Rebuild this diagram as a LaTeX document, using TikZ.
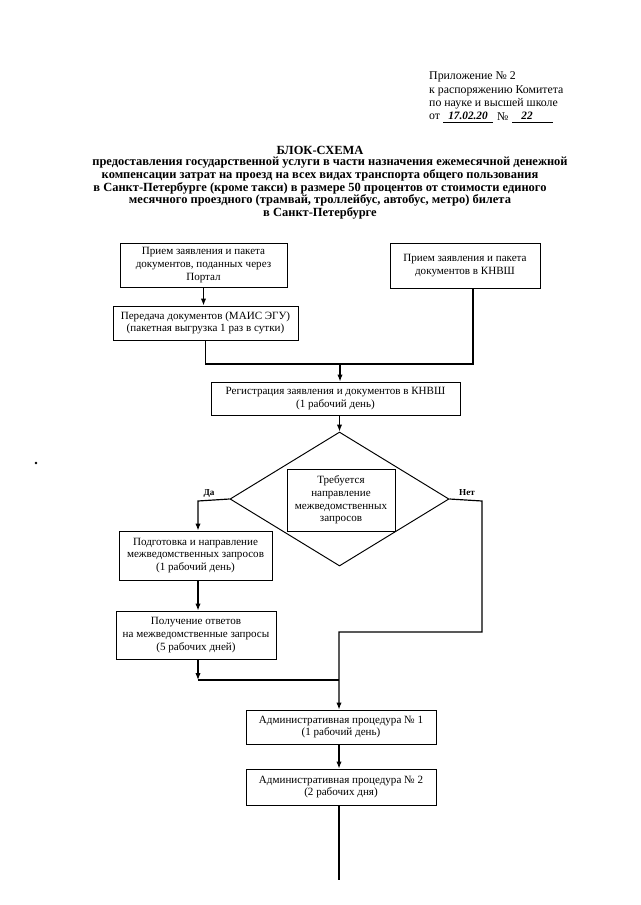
\documentclass[tikz,border=0pt]{standalone}
\usepackage{fontspec}
\setmainfont{Liberation Serif}
\usetikzlibrary{shapes.geometric,arrows.meta}
\begin{document}
\begin{tikzpicture}[x=0.9302pt,y=-0.9302pt,
  box/.style 2 args={draw,line width=0.9pt,inner sep=0pt,align=center,
    font=\fontsize{10.3}{11.8}\selectfont,
    minimum width=#1*0.9302pt,minimum height=#2*0.9302pt},
  arr/.style={line width=1.1pt,-{Latex[length=6.5pt,width=5pt]}},
  ln/.style={line width=1.1pt},
  ttl/.style={font=\bfseries\fontsize{11.6}{13}\selectfont,inner sep=0pt},
  hdr/.style={font=\fontsize{11}{12}\selectfont,inner sep=0pt,anchor=west},
  hand/.style={font=\itshape\bfseries\fontsize{10.5}{12}\selectfont,inner sep=0pt},
  lbl/.style={font=\bfseries\fontsize{8.5}{10}\selectfont,inner sep=0pt}]
\useasboundingbox[fill=white] (0,0) rectangle (640,905);

% header
\node[hdr] (h1) at (429,77) {Приложение № 2};
\node[hdr] (h2) at (429,91) {к распоряжению Комитета};
\node[hdr] (h3) at (429,104) {по науке и высшей школе};
\node[hdr] (h4) at (429,117) {от};
\coordinate (u1a) at (443,122); \coordinate (u1b) at (493,122);
\draw[line width=0.6pt] (u1a) -- (u1b);
\node[hand] (d1) at (468,116) {17.02.20};
\node[hdr] (h5) at (497,117) {№};
\coordinate (u2a) at (512,122); \coordinate (u2b) at (553,122);
\draw[line width=0.6pt] (u2a) -- (u2b);
\node[hand] (d2) at (527,116) {22};

% title
\node[ttl] (t1) at (320,150) {БЛОК-СХЕМА};
\node[ttl] (t2) at (330,162.5) {предоставления государственной услуги в части назначения ежемесячной денежной};
\node[ttl] (t3) at (320,175.5) {компенсации затрат на проезд на всех видах транспорта общего пользования};
\node[ttl] (t4) at (320,188) {в Санкт-Петербурге (кроме такси) в размере 50 процентов от стоимости единого};
\node[ttl] (t5) at (320,200.5) {месячного проездного (трамвай, троллейбус, автобус, метро) билета};
\node[ttl] (t6) at (320,213.5) {в Санкт-Петербурге};

% boxes
\node[box={167}{44}] (portal) at (203.5,265) {Прием заявления и пакета\\документов, поданных через\\Портал};
\node[box={185}{34}] (peredacha) at (205.5,323) {Передача документов (МАИС ЭГУ)\\(пакетная выгрузка 1 раз в сутки)};
\node[box={150}{45}] (knvsh) at (465,265.5) {Прием заявления и пакета\\документов в КНВШ};
\node[box={249}{33}] (reg) at (335.5,398.5) {Регистрация заявления и документов в КНВШ\\(1 рабочий день)};
\node[draw,line width=0.9pt,diamond,inner sep=0pt,minimum width=219*0.9302pt,minimum height=134*0.9302pt] (dia) at (339.5,499) {};
\node[box={108}{62}] (q) at (341,500) {Требуется\\направление\\межведомственных\\запросов};
\node[box={153}{49}] (podg) at (195.5,555.5) {Подготовка и направление\\межведомственных запросов\\(1 рабочий день)};
\node[box={160}{48}] (poluch) at (196,635) {Получение ответов\\на межведомственные запросы\\(5 рабочих дней)};
\node[box={190}{34}] (adm1) at (341,727) {Административная процедура № 1\\(1 рабочий день)};
\node[box={190}{36}] (adm2) at (341,787) {Административная процедура № 2\\(2 рабочих дня)};

% labels
\node[lbl] (da-l) at (209,493) {Да};
\node[lbl] (net-l) at (467,493) {Нет};

% connectors
\coordinate (j1) at (473,364);
\coordinate (j2) at (340,364);
\draw[arr] (portal.south) -- (portal.south |- peredacha.north);
\draw[ln] (peredacha.south) |- (j1) -- (knvsh.south -| j1);
\draw[arr] (j2) -- (j2 |- reg.north);
\draw[arr] (dia.north |- reg.south) -- (dia.north);

\coordinate (da) at (198,501);
\draw[arr] (dia.west) -- (da) -- (da |- podg.north);
\draw[arr] (da |- podg.south) -- (da |- poluch.north);
\coordinate (j3) at (198,680);
\coordinate (j4) at (339,680);
\draw[arr] (da |- poluch.south) -- (j3);
\draw[ln] (j3) -- (j4);

\coordinate (net1) at (482,501);
\coordinate (net2) at (482,632);
\coordinate (j5) at (339,632);
\draw[arr] (dia.east) -- (net1) -- (net2) -- (j5) -- (j5 |- adm1.north);
\draw[arr] (adm1.south -| j5) -- (adm2.north -| j5);
\coordinate (fin) at (339,880);
\draw[ln] (adm2.south -| fin) -- (fin);

% scan speck
\coordinate (speck) at (36,463);
\fill (speck) circle (1.3);
\end{tikzpicture}
\end{document}
